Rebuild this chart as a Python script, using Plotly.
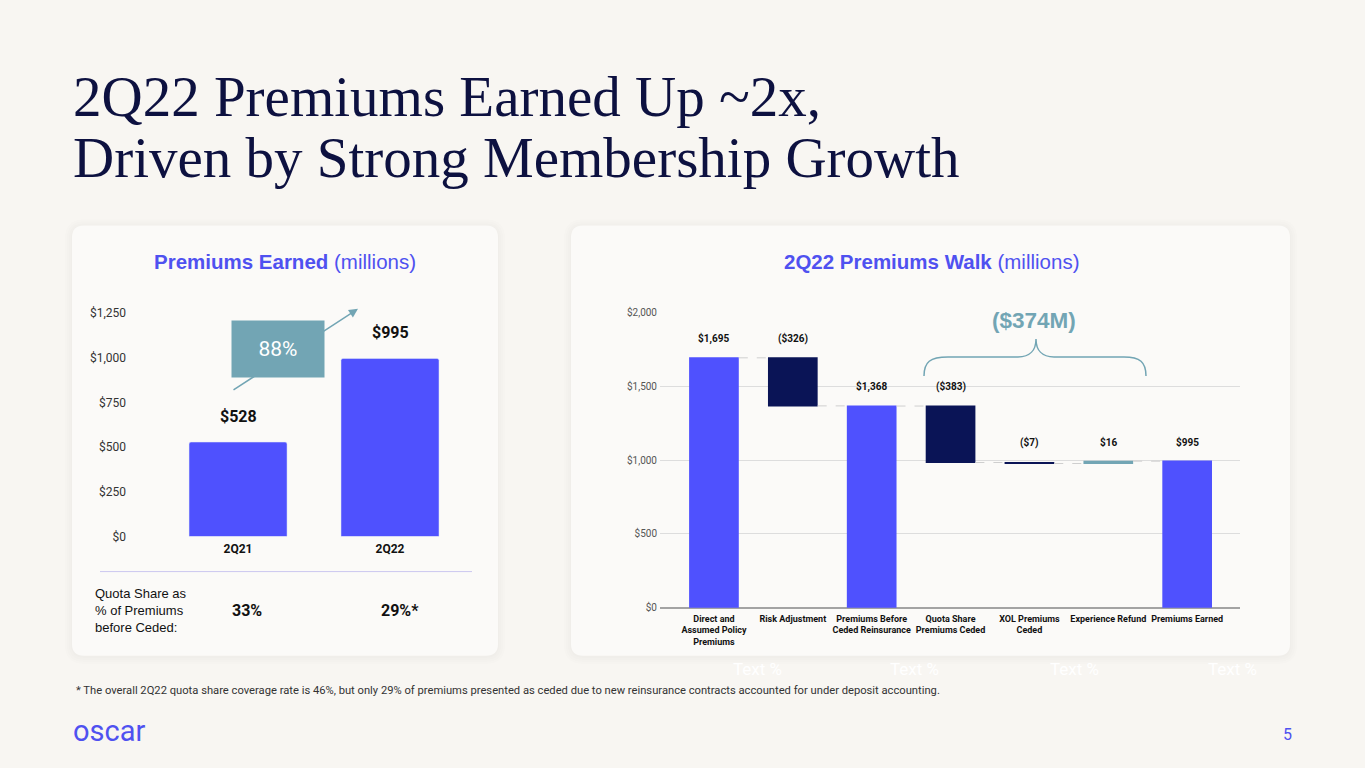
import plotly.graph_objects as go

W, H = 1365, 768

# left panel data
quarters = ["2Q21", "2Q22"]
premiums_earned = [528, 995]
quota_share = ["33%", "29%*"]
growth_label = "88%"

# right panel data (premiums walk)
walk_steps = ["Direct and<br>Assumed Policy<br>Premiums", "Risk Adjustment",
              "Premiums Before<br>Ceded Reinsurance", "Quota Share<br>Premiums Ceded",
              "XOL Premiums<br>Ceded", "Experience Refund", "Premiums Earned"]
walk_values = [1695, -326, 1368, -383, -7, 16, 995]
walk_measure = ["absolute", "relative", "absolute", "relative", "relative", "relative", "absolute"]
ceded_total = "($374M)"

BG = "#F8F6F2"
CARD = "#FBFAF8"
BLUE = "#4F51FE"
NAVY = "#0A1456"
TEAL = "#72A5B4"
TITLE_NAVY = "#0D1140"

# the photographed page comes out squeezed a little vertically (8px bands), so
# positions are given in screen pixels and mapped back here
SQUEEZE, TOP = 0.979, 8


def px(x):
    return x / W


def py(y):
    return 1 - ((y - TOP) / SQUEEZE) / H


def rounded_rect(x0, y0, x1, y1, r):
    pts = [
        f"M {px(x0 + r)},{py(y0)}",
        f"L {px(x1 - r)},{py(y0)}",
        f"Q {px(x1)},{py(y0)} {px(x1)},{py(y0 + r)}",
        f"L {px(x1)},{py(y1 - r)}",
        f"Q {px(x1)},{py(y1)} {px(x1 - r)},{py(y1)}",
        f"L {px(x0 + r)},{py(y1)}",
        f"Q {px(x0)},{py(y1)} {px(x0)},{py(y1 - r)}",
        f"L {px(x0)},{py(y0 + r)}",
        f"Q {px(x0)},{py(y0)} {px(x0 + r)},{py(y0)} Z",
    ]
    return " ".join(pts)


def fmt_money(v):
    return f"(${abs(v):,})" if v < 0 else f"${v:,}"


def note(text, x, y, xanchor="center", yanchor="middle", **kw):
    d = dict(text=text, x=px(x), y=py(y), xref="paper", yref="paper",
             xanchor=xanchor, yanchor=yanchor, showarrow=False)
    d.update(kw)
    return d


fig = go.Figure()

fig.add_trace(go.Bar(
    x=quarters, y=premiums_earned, marker_color=BLUE, width=0.645,
    xaxis="x", yaxis="y", hoverinfo="skip",
))

fig.add_trace(go.Waterfall(
    x=walk_steps, y=walk_values, measure=walk_measure, width=0.63,
    totals=dict(marker=dict(color=BLUE)),
    decreasing=dict(marker=dict(color=NAVY)),
    increasing=dict(marker=dict(color=TEAL)),
    connector=dict(line=dict(color="#CFCFCF", width=1, dash="dash")),
    textposition="none", xaxis="x2", yaxis="y2", hoverinfo="skip",
))

shapes = []
# cards with a soft, spread shadow
for (x0, y0, x1, y1) in [(72, 226, 498, 655), (571, 226, 1290, 655)]:
    for grow in (7, 5, 3, 1):
        shapes.append(dict(type="path", path=rounded_rect(x0 - grow, y0 - grow + 1, x1 + grow, y1 + grow + 1,
                                                          12 + grow),
                           xref="paper", yref="paper", fillcolor="rgba(120,110,90,0.012)",
                           line_width=0, layer="below"))
    shapes.append(dict(type="path", path=rounded_rect(x0, y0, x1, y1, 12), xref="paper", yref="paper",
                       fillcolor=CARD, line_width=0, layer="below"))

# separator under left chart
shapes.append(dict(type="line", xref="paper", yref="paper", x0=px(100), x1=px(472), y0=py(571), y1=py(571),
                   line=dict(color="#CBC7EF", width=1)))

# brace over the ceded steps
brace = [(924, 376), (924, 362), (930, 357), (948, 357), (1018, 357), (1030, 357), (1036, 350), (1036, 339),
         (1036, 350), (1042, 357), (1054, 357), (1124, 357), (1140, 357), (1146, 362), (1146, 376)]
b = [f"{px(x)},{py(y)}" for x, y in brace]
brace_path = (f"M {b[0]} C {b[1]} {b[2]} {b[3]} L {b[4]} C {b[5]} {b[6]} {b[7]} "
              f"C {b[8]} {b[9]} {b[10]} L {b[11]} C {b[12]} {b[13]} {b[14]}")
shapes.append(dict(type="path", path=brace_path, xref="paper", yref="paper",
                   line=dict(color=TEAL, width=1.5)))

title_font = dict(family="Liberation Serif", size=57, color=TITLE_NAVY)
ann = [
    note("2Q22 Premiums Earned Up ~2x,", 71, 97, xanchor="left", font=title_font),
    note("Driven by Strong Membership Growth", 71, 158, xanchor="left", font=title_font),
    note("<b>Premiums Earned</b> (millions)", 285, 262,
         font=dict(family="Liberation Sans", size=20.5, color="#4F51F0")),
    note("<b>2Q22 Premiums Walk</b> (millions)", 931, 262,
         font=dict(family="Liberation Sans", size=20.5, color="#4F51F0")),
]

# left bar labels
for q, v in zip(quarters, premiums_earned):
    ann.append(dict(text=fmt_money(v), x=q, y=v, xref="x", yref="y", xanchor="center", yanchor="bottom",
                    yshift=14, showarrow=False,
                    font=dict(family="Roboto", size=16, color="#111111", weight="bold")))

# growth arrow and box
ann.append(dict(text="", x=px(358), y=py(309), xref="paper", yref="paper", ax=-126, ay=82,
                showarrow=True, arrowhead=2, arrowsize=1.2, arrowwidth=1.5, arrowcolor=TEAL))
ann.append(note(growth_label, 278, 349.5, bgcolor=TEAL, width=92, height=56, borderpad=0,
                font=dict(family="Roboto", size=21, color="white")))

# quota share row
ann.append(note("Quota Share as<br>% of Premiums<br>before Ceded:", 93, 610, xanchor="left", align="left",
                font=dict(family="Liberation Sans", size=13, color="#111111")))
for q, s in zip(quarters, quota_share):
    ann.append(dict(text=s, x=q, y=py(610), xref="x", yref="paper", xanchor="center", yanchor="middle",
                    showarrow=False, xshift=10 if s.endswith("*") else 9,
                    font=dict(family="Roboto", size=16, color="#111111", weight="bold")))

# waterfall labels
level = 0
for step, v, m in zip(walk_steps, walk_values, walk_measure):
    if m == "absolute":
        top = v
        level = v
    else:
        top = max(level, level + v)
        level = level + v
    ann.append(dict(text=fmt_money(v), x=step, y=top, xref="x2", yref="y2", xanchor="center",
                    yanchor="bottom", yshift=11, showarrow=False,
                    font=dict(family="Roboto", size=10, color="#111111", weight="bold")))

ann.append(note(f"<b>{ceded_total}</b>", 1034, 321,
                font=dict(family="Liberation Sans", size=22.5, color=TEAL)))

# faint placeholder texts under the card
for gx in [757, 915, 1074, 1232]:
    ann.append(note("Text %", gx, 668, font=dict(family="Roboto", size=17, color="white")))

ann.append(note("* The overall 2Q22 quota share coverage rate is 46%, but only 29% of premiums presented as "
                "ceded due to new reinsurance contracts accounted for under deposit accounting.",
                74, 690, xanchor="left", font=dict(family="Roboto", size=11.2, color="#333333")))
ann.append(note("oscar", 71, 730, xanchor="left", font=dict(family="Roboto", size=29, color="#4F51F0")))
ann.append(note("5", 1287, 733, font=dict(family="Roboto", size=16, color="#4F51F0")))

fig.update_layout(
    width=W, height=H, margin=dict(l=0, r=0, t=0, b=0),
    paper_bgcolor=BG, plot_bgcolor="rgba(0,0,0,0)", showlegend=False,
    barcornerradius=2,
    shapes=shapes, annotations=ann,
    xaxis=dict(domain=[px(135), px(490)], range=[-0.678, 1.658], type="category",
               showgrid=False, zeroline=False, showline=False, ticks="", ticklabelstandoff=4,
               tickfont=dict(family="Roboto", size=12, color="#111111", weight="bold")),
    yaxis=dict(domain=[py(536), py(313)], range=[0, 1250], dtick=250, tickprefix="$", tickformat=",",
               showgrid=False, zeroline=False, showline=False, ticks="", ticklabelstandoff=8,
               tickfont=dict(family="Roboto", size=12, color="#333333")),
    xaxis2=dict(domain=[px(660), px(1240)], range=[-0.684, 6.67], type="category", anchor="y2",
                showgrid=False, zeroline=False, showline=False, ticks="", ticklabelstandoff=4,
                tickfont=dict(family="Roboto", size=9, color="#111111", weight="bold")),
    yaxis2=dict(domain=[py(607), py(313)], range=[0, 2000], dtick=500, tickprefix="$", tickformat=",",
                anchor="x2", showgrid=True, gridcolor="#DDDDDD", gridwidth=1,
                zeroline=True, zerolinecolor="#A3A3A3", zerolinewidth=2, showline=False, ticks="",
                ticklabelstandoff=2,
                tickfont=dict(family="Roboto", size=10, color="#555555")),
)

pin = ("document.body.style.margin='0';document.body.style.overflow='hidden';"
       "var gd=document.getElementById('{plot_id}');gd.style.position='fixed';gd.style.top='0';gd.style.left='0';")
fig.write_html("out.html", config={"displayModeBar": False}, post_script=pin)
